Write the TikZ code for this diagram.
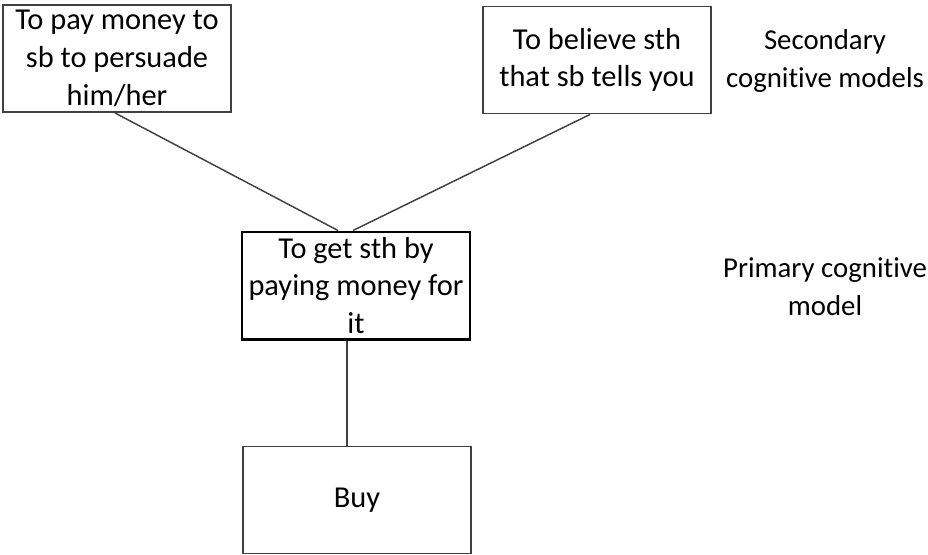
\documentclass[tikz,border=0pt]{standalone}
\usepackage{fontspec}
\setmainfont[Ligatures=NoCommon]{Carlito}
\tikzset{every picture/.style={line width=0.75pt}}
\tikzset{box/.style={draw={rgb, 255:red, 64; green, 64; blue, 64 }, line width=1.2pt, minimum width=171pt, minimum height=80.5pt, align=center, inner sep=0pt, font=\fontsize{22.8}{28.3}\selectfont},
  mainbox/.style={box, draw=black, line width=2pt},
  lbl/.style={align=center, inner sep=0pt, font=\fontsize{21.6}{28.3}\selectfont},
  link/.style={draw={rgb, 255:red, 64; green, 64; blue, 64 }, line width=1.1pt}}

\begin{document}
\begin{tikzpicture}[x=0.75pt,y=0.75pt,yscale=-1,xscale=1]
\useasboundingbox (0,0) rectangle (928,554);

%Shape: Rectangle [id:secondary left]
\node (pay) at (117,58.5) [box] {To pay money to\\sb to persuade\\him/her};
%Shape: Rectangle [id:secondary right]
\node (believe) at (597,60) [box] {To believe sth\\that sb tells you};
%Shape: Rectangle [id:primary]
\node (get) at (356,285.5) [mainbox] {To get sth by\\paying money for\\it};
%Shape: Rectangle [id:buy]
\node (buy) at (357,500) [box] {Buy};

%Straight Lines
\draw [link] ([xshift=-1.5pt]pay.south) -- ([xshift=-13.5pt]get.north) ;
%Straight Lines
\draw [link] ([xshift=-5.25pt]believe.south) -- ([xshift=-2.25pt]get.north) ;
%Straight Lines
\draw [link] ([xshift=-6.75pt]get.south) -- ([xshift=-6.75pt]get.south |- buy.north) ;

% Text Node
\node (sec) at (825,61) [lbl] {Secondary\\cognitive models};
% Text Node
\node (prim) at (825,287) [lbl] {Primary cognitive\\model};

\end{tikzpicture}
\end{document}
